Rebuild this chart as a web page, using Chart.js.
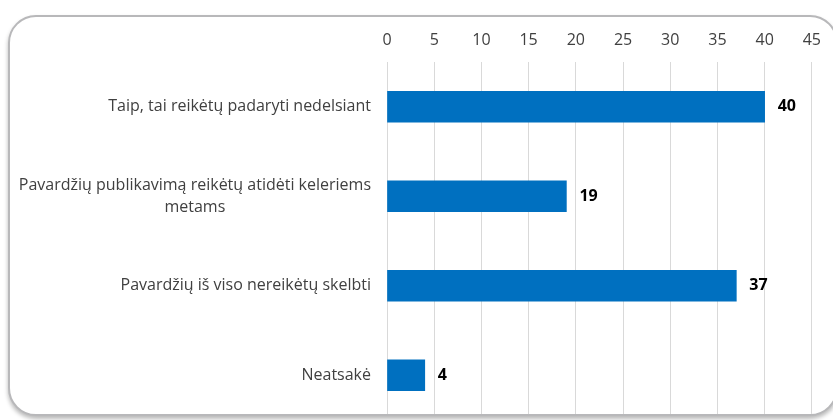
<!DOCTYPE html>
<html>
<head>
<meta charset="utf-8">
<script src="https://cdn.jsdelivr.net/npm/chart.js"></script>
<style>
  html, body { margin: 0; padding: 0; background: #fff; }
  body { width: 833px; height: 420px; position: relative; overflow: hidden; }
  .frame {
    position: absolute; left: 8px; top: 15px; width: 826px; height: 397px;
    border: 2.5px solid #b8b8ba; border-radius: 28px; overflow: hidden;
    box-shadow: 0 3px 4px rgba(0,0,0,0.28);
    background: #fff;
  }
  canvas { position: absolute; left: -10.5px; top: -17.5px; }
</style>
</head>
<body>
<div class="frame">
  <canvas id="chart" width="833" height="420"></canvas>
</div>
<script>
// Data
const categories = [
    'Taip, tai reikėtų padaryti nedelsiant',
    ['Pavardžių publikavimą reikėtų atidėti keleriems', 'metams'],
    'Pavardžių iš viso nereikėtų skelbti',
    'Neatsakė'
];
const values = [40, 19, 37, 4];
const axisMin = 0;
const axisMax = 45;
const axisStep = 5;

const textColor = '#404040';
const fontFamily = "'Open Sans', 'Liberation Sans', sans-serif";

// Category labels: right aligned block, multi-line centered (like Excel)
const categoryLabels = {
    id: 'categoryLabels',
    afterDraw(chart) {
        const ctx = chart.ctx;
        const yScale = chart.scales.y;
        const right = chart.chartArea.left - 16;
        ctx.save();
        ctx.font = '16px ' + fontFamily;
        ctx.fillStyle = textColor;
        ctx.textBaseline = 'middle';
        ctx.textAlign = 'center';
        categories.forEach((label, i) => {
            const lines = Array.isArray(label) ? label : [label];
            const maxW = Math.max(...lines.map(l => ctx.measureText(l).width));
            const cx = right - maxW / 2;
            const lineH = 22;
            const y0 = yScale.getPixelForValue(i) - (lines.length - 1) * lineH / 2;
            lines.forEach((l, j) => ctx.fillText(l, cx, y0 + j * lineH));
        });
        ctx.restore();
    }
};

// Value labels at bar ends
const valueLabels = {
    id: 'valueLabels',
    afterDatasetsDraw(chart) {
        const ctx = chart.ctx;
        const meta = chart.getDatasetMeta(0);
        ctx.save();
        ctx.font = 'bold 16px ' + fontFamily;
        ctx.fillStyle = '#000';
        ctx.textBaseline = 'middle';
        ctx.textAlign = 'left';
        meta.data.forEach((bar, i) => {
            ctx.fillText(values[i], bar.x + 13, bar.y);
        });
        ctx.restore();
    }
};

new Chart(document.getElementById('chart'), {
    type: 'bar',
    data: {
        labels: categories,
        datasets: [{
            data: values,
            backgroundColor: '#0070c0',
            borderWidth: 0,
            barThickness: 31
        }]
    },
    options: {
        indexAxis: 'y',
        responsive: false,
        animation: false,
        layout: { padding: { top: 0, right: 17, bottom: 0, left: 0 } },
        plugins: {
            legend: { display: false },
            tooltip: { enabled: false }
        },
        scales: {
            x: {
                position: 'top',
                min: axisMin,
                max: axisMax,
                ticks: {
                    stepSize: axisStep,
                    color: textColor,
                    font: { size: 16, family: fontFamily },
                    padding: 12
                },
                grid: { color: '#d9d9d9', drawTicks: false },
                border: { display: false },
                afterFit(scale) { scale.height = 62; }
            },
            y: {
                ticks: { display: false },
                grid: { display: false },
                border: { display: false },
                afterFit(scale) { scale.width = 387; }
            }
        }
    },
    plugins: [categoryLabels, valueLabels]
});
</script>
</body>
</html>
